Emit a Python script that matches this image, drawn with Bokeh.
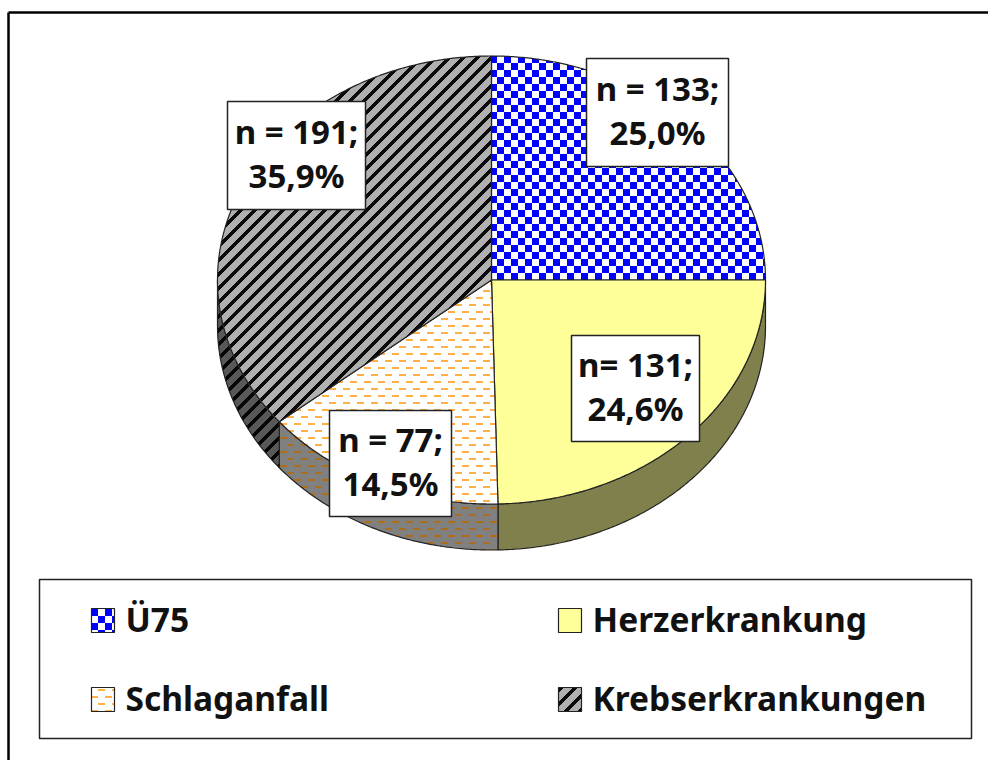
import base64, math, struct, zlib
from bokeh.core.properties import value
from bokeh.embed import file_html
from bokeh.models import ImageURLTexture, Range1d
from bokeh.plotting import figure
from bokeh.resources import INLINE

categories = ["Ü75", "Herzerkrankung", "Schlaganfall", "Krebserkrankungen"]
counts = [133, 131, 77, 191]
label_line1 = ["n = 133;", "n= 131;", "n = 77;", "n = 191;"]
label_line2 = ["25,0%", "24,6%", "14,5%", "35,9%"]


def png_url(rows):
    h, w = len(rows), len(rows[0])
    raw = b"".join(b"\0" + bytes(c for px in r for c in px) for r in rows)
    def chunk(t, d):
        return struct.pack(">I", len(d)) + t + d + struct.pack(">I", zlib.crc32(t + d) & 0xffffffff)
    data = b"\x89PNG\r\n\x1a\n" + chunk(b"IHDR", struct.pack(">IIBBBBB", w, h, 8, 2, 0, 0, 0)) + \
        chunk(b"IDAT", zlib.compress(raw)) + chunk(b"IEND", b"")
    return "data:image/png;base64," + base64.b64encode(data).decode()


def checker(a, b, cell=7):
    return [[a if ((x // cell) + (y // cell)) % 2 == 0 else b for x in range(cell * 2)] for y in range(cell * 2)]


def dashes(bg, fg, n=14):
    rows = [[bg] * n for _ in range(n)]
    for x in range(n):
        if x < n // 2:
            rows[3][x] = fg
            rows[4][x] = fg
        else:
            rows[10][x] = fg
            rows[11][x] = fg
    return rows


def stripes(bg, fg, n=14, w=5):
    return [[fg if (x + y) % n < w else bg for x in range(n)] for y in range(n)]


tex = {
    "blue": ImageURLTexture(url=png_url(checker((0, 0, 255), (255, 255, 255)))),
    "dash": ImageURLTexture(url=png_url(dashes((255, 255, 255), (255, 175, 70)))),
    "dash_d": ImageURLTexture(url=png_url(dashes((128, 128, 128), (170, 110, 30)))),
    "stripe": ImageURLTexture(url=png_url(stripes((176, 176, 176), (10, 10, 10)))),
    "stripe_d": ImageURLTexture(url=png_url(stripes((88, 88, 88), (5, 5, 5)))),
}
extra = {k: v for k, v in tex.items()}

W, H = 988, 760
p = figure(width=W, height=H, x_range=Range1d(0, W), y_range=Range1d(H, 0),
           toolbar_location=None, output_backend="svg", min_border=0,
           background_fill_color="white", border_fill_color="white", outline_line_color=None)
p.axis.visible = False
p.grid.visible = False

CX, CY, RX, RY, DEPTH = 491, 279.5, 274, 224, 46
total = sum(counts)
edges = [0]
for c in counts:
    edges.append(edges[-1] + c / total * 360)


def pt(t, dy=0):
    r = math.radians(t)
    return CX + RX * math.sin(r), CY - RY * math.cos(r) + dy


def arc(a, b, dy=0):
    n = max(2, int(abs(b - a) * 2))
    return [pt(a + (b - a) * i / n, dy) for i in range(n + 1)]


def hatch(name):
    return dict(hatch_pattern=name, hatch_extra=extra, hatch_alpha=1.0) if name else {}


top_fill = [None, "#FFFF99", None, None]
top_hatch = ["blue", None, "dash", "stripe"]
side_fill = ["#7F7F7F", "#80804D", "#808080", "#585858"]
side_hatch = [None, None, "dash_d", "stripe_d"]
EDGE = "#222222"

# visible side wall of the 3D pie
for i in range(len(counts)):
    a, b = max(edges[i], 90), min(edges[i + 1], 270)
    if b <= a:
        continue
    pts = arc(a, b) + arc(b, a, DEPTH)
    p.patch([q[0] for q in pts], [q[1] for q in pts], fill_color=side_fill[i],
            line_color=EDGE, line_width=1.2, **hatch(side_hatch[i]))

# top slices
for i in range(len(counts)):
    pts = [(CX, CY)] + arc(edges[i], edges[i + 1])
    p.patch([q[0] for q in pts], [q[1] for q in pts], fill_color=top_fill[i] or "white",
            line_color=EDGE, line_width=1.2, **hatch(top_hatch[i]))

# data label boxes
box_l = [586, 571, 329, 227]
box_r = [728, 699, 451, 365]
box_t = [58, 335, 410, 101]
box_b = [166, 441, 516, 209]
p.quad(left=box_l, right=box_r, top=box_t, bottom=box_b, fill_color="white",
       line_color="#222222", line_width=1.5)
FONT = value("Noto Sans")
line_off = 22
for l, r, t, b, s1, s2 in zip(box_l, box_r, box_t, box_b, label_line1, label_line2):
    xc, yc = (l + r) / 2, (t + b) / 2
    p.text([xc], [yc - line_off - 2], text=[s1], text_font=FONT, text_font_style="bold",
           text_font_size="33px", text_align="center", text_baseline="middle", text_color="#111111")
    p.text([xc], [yc + line_off - 2], text=[s2], text_font=FONT, text_font_style="bold",
           text_font_size="33px", text_align="center", text_baseline="middle", text_color="#111111")

# legend
p.quad(left=[39], right=[971], top=[579], bottom=[738], fill_color="white",
       line_color="#222222", line_width=1.5)
leg_x = [91, 558, 91, 558]
leg_y = [620, 620, 699, 699]
for i, name in enumerate(categories):
    sx = [leg_x[i], leg_x[i] + 23, leg_x[i] + 23, leg_x[i]]
    sy = [leg_y[i] - 12, leg_y[i] - 12, leg_y[i] + 12, leg_y[i] + 12]
    p.patch(sx, sy, fill_color=top_fill[i] or "white", line_color="#222222", line_width=1.2,
            **hatch(top_hatch[i]))
    p.text([leg_x[i] + 34], [leg_y[i] - 2], text=[name], text_font=FONT, text_font_style="bold",
           text_font_size="33.5px", text_align="left", text_baseline="middle", text_color="#111111")

# outer frame: only its top and left edges fall inside the window
p.line([8, 8], [760, 12], line_color="black", line_width=2.5)
p.line([8, 988], [12, 12], line_color="black", line_width=2.5)

open("out.html", "w").write(file_html(p, INLINE))
